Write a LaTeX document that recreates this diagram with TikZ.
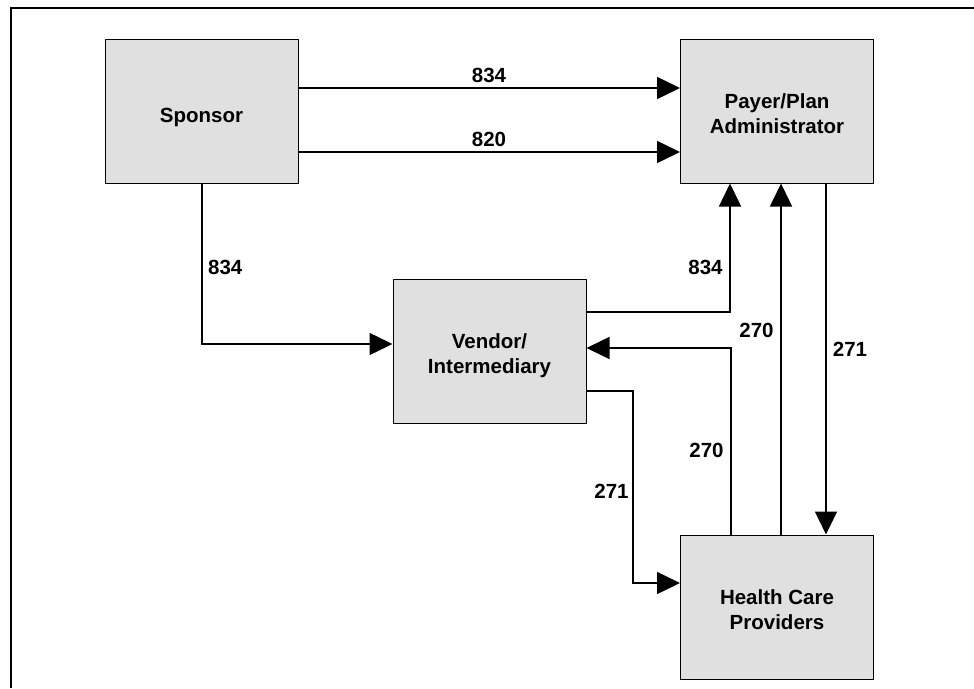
\documentclass[tikz,border=0pt]{standalone}
\usepackage{fontspec}
\newfontfamily\diafont{Liberation Sans}
\usetikzlibrary{arrows.meta}
\definecolor{boxgray}{HTML}{E0E0E0}
\begin{document}
\begin{tikzpicture}[x=1pt,y=-1pt,
  box/.style={draw,line width=1pt,fill=boxgray,minimum width=193pt,minimum height=144pt,
    inner sep=0pt,align=center,font=\diafont\bfseries\fontsize{20.5}{25}\selectfont},
  oneline/.style={box,text height=22pt,text depth=0pt},
  twoline/.style={box,text height=45pt,text depth=0pt},
  conn/.style={line width=1.5pt},
  arr/.style={conn,-{Triangle[length=23pt,width=22pt]}},
  lab/.style={inner sep=0pt,anchor=base,font=\diafont\bfseries\fontsize{20.5}{25}\selectfont},
  frame/.style={line width=2pt}]
\useasboundingbox (0,0) rectangle (974,688);
\draw[frame] (974,7.7) -- (11,7.7) -- (11,688);

\node[oneline] (sp) at (201.5,111) {Sponsor};
\node[twoline] (pa) at (777,111) {Payer/Plan\\Administrator};
\node[twoline] (vd) at (489.5,351) {Vendor/\\Intermediary};
\node[twoline] (hc) at (777,607) {Health Care\\Providers};

\coordinate (c8) at (633,391);

\draw[arr] ([yshift=23pt]sp.east) -- ([yshift=23pt]pa.west);
\draw[arr] ([yshift=-41pt]sp.east) -- ([yshift=-41pt]pa.west);
\draw[arr] ([xshift=0.5pt]sp.south) |- ([yshift=7pt]vd.west);
\draw[arr] ([yshift=39pt]vd.east) -| ([xshift=-47pt]pa.south);
\draw[arr] ([xshift=-46pt]hc.north) |- ([yshift=3pt]vd.east);
\draw[arr] ([xshift=4pt]hc.north) -- ([xshift=4pt]pa.south);
\draw[arr] ([xshift=49pt]pa.south) -- ([xshift=49pt]hc.north);
\draw[arr] ([yshift=-40pt]vd.east) -- (c8) |- ([yshift=24pt]hc.west);

\node[lab] (l1) at (489,82) {834};
\node[lab] (l2) at (489,146.5) {820};
\node[lab,anchor=base west] (l3) at (208,274) {834};
\node[lab] (l4) at (705.5,274) {834};
\node[lab] (l5) at (756.5,337) {270};
\node[lab] (l6) at (850,356) {271};
\node[lab] (l7) at (706.5,457) {270};
\node[lab] (l8) at (611.5,498) {271};
\end{tikzpicture}
\end{document}
